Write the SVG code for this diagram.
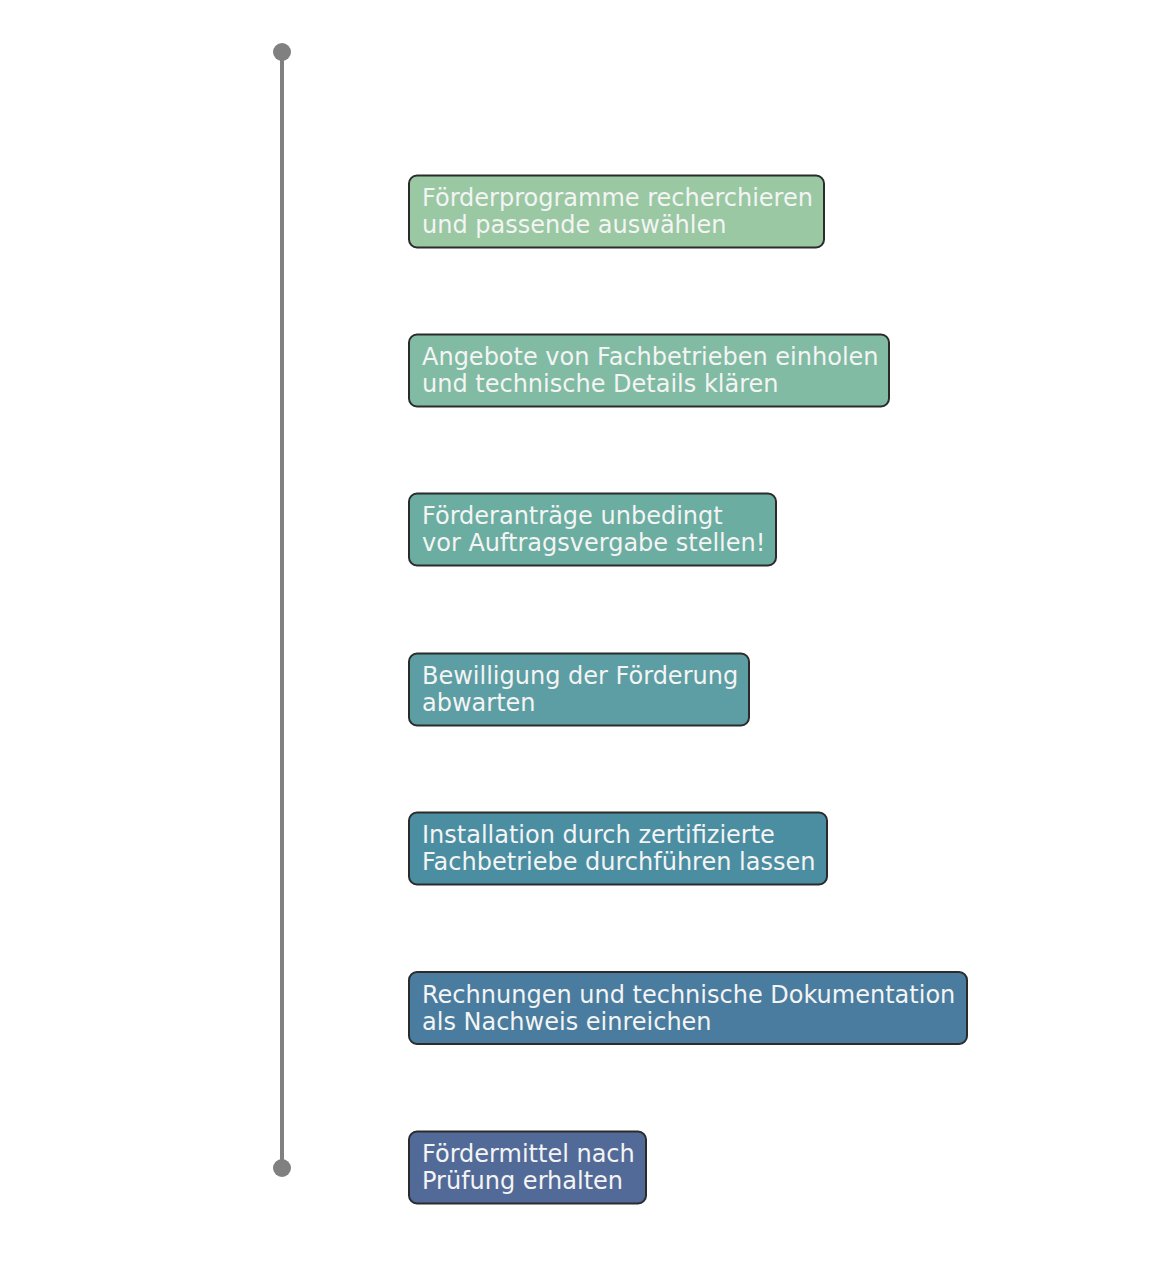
<svg xmlns="http://www.w3.org/2000/svg" width="1156" height="1262" viewBox="0 0 1156 1262">
<style>
.box{stroke:#2b2b2b;stroke-width:2}
.lbl{font-family:"DejaVu Sans",sans-serif;font-size:24px;fill:#f4f4f4}
</style>
<rect width="1156" height="1262" fill="#ffffff"/>
<g id="connectors">
<line x1="282" y1="52" x2="282" y2="1168" stroke="#808080" stroke-width="4"/>
<circle cx="282" cy="52" r="9" fill="#808080"/>
<circle cx="282" cy="1168" r="9" fill="#808080"/>
</g>
<g id="n1"><rect class="box" x="409" y="175.5" width="415" height="72" rx="8" fill="#99c8a3"/>
<text class="lbl" x="422" y="206">Förderprogramme recherchieren</text><text class="lbl" x="422" y="232.5">und passende auswählen</text></g>
<g id="n2"><rect class="box" x="409" y="334.5" width="480" height="72" rx="8" fill="#81bba3"/>
<text class="lbl" x="422" y="365">Angebote von Fachbetrieben einholen</text><text class="lbl" x="422" y="391.5">und technische Details klären</text></g>
<g id="n3"><rect class="box" x="409" y="493.5" width="367" height="72" rx="8" fill="#6bada1"/>
<text class="lbl" x="422" y="524">Förderanträge unbedingt</text><text class="lbl" x="422" y="550.5">vor Auftragsvergabe stellen!</text></g>
<g id="n4"><rect class="box" x="409" y="653.5" width="340" height="72" rx="8" fill="#5c9ea3"/>
<text class="lbl" x="422" y="684">Bewilligung der Förderung</text><text class="lbl" x="422" y="710.5">abwarten</text></g>
<g id="n5"><rect class="box" x="409" y="812.5" width="418" height="72" rx="8" fill="#4b8ea2"/>
<text class="lbl" x="422" y="843">Installation durch zertifizierte</text><text class="lbl" x="422" y="869.5">Fachbetriebe durchführen lassen</text></g>
<g id="n6"><rect class="box" x="409" y="972" width="558" height="72" rx="8" fill="#497c9e"/>
<text class="lbl" x="422" y="1003">Rechnungen und technische Dokumentation</text><text class="lbl" x="422" y="1029.5">als Nachweis einreichen</text></g>
<g id="n7"><rect class="box" x="409" y="1131.5" width="237" height="72" rx="8" fill="#526a98"/>
<text class="lbl" x="422" y="1162">Fördermittel nach</text><text class="lbl" x="422" y="1188.5">Prüfung erhalten</text></g>
</svg>
